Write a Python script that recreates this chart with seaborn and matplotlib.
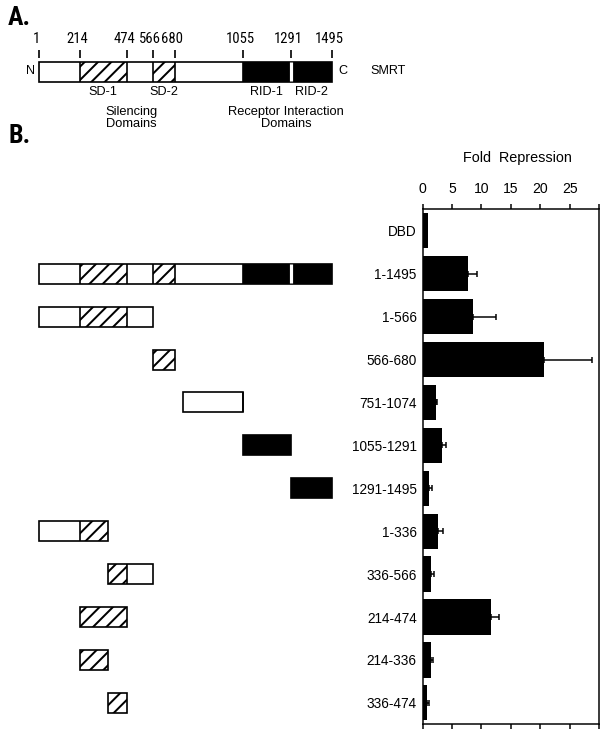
import numpy as np
import pandas as pd
import matplotlib
matplotlib.use("Agg")
import matplotlib.pyplot as plt
import seaborn as sns
from matplotlib.patches import Rectangle
from matplotlib.transforms import offset_copy

# ---------------- data ----------------
constructs = ["DBD", "1-1495", "1-566", "566-680", "751-1074", "1055-1291",
              "1291-1495", "1-336", "336-566", "214-474", "214-336", "336-474"]
fold_repression = [1.0, 7.8, 8.6, 20.6, 2.3, 3.25, 1.15, 2.6, 1.5, 11.6, 1.4, 0.8]
fold_error = [0.0, 1.4, 3.9, 8.2, 0.15, 0.75, 0.4, 0.8, 0.45, 1.4, 0.45, 0.35]
frag_start = [None, 1, 1, 566, 751, 1055, 1291, 1, 336, 214, 214, 336]
frag_end = [None, 1495, 566, 680, 1074, 1291, 1495, 336, 566, 474, 336, 474]

domain_names = ["SD-1", "SD-2", "RID-1", "RID-2"]
domain_start = [214, 566, 1055, 1291]
domain_end = [474, 680, 1291, 1495]
domain_style = ["hatch", "hatch", "solid", "solid"]
tick_residues = [1, 214, 474, 566, 680, 1055, 1291, 1495]
protein_start, protein_end = 1, 1495

# schematic (not-to-scale) drawing scale: residue -> drawing position
SCALE_RES = [1, 214, 336, 474, 566, 680, 751, 1055, 1074, 1291, 1495]
SCALE_POS = [38.6, 79.5, 107.5, 127, 152.5, 174.5, 183, 242.5, 243, 290.5, 332]

# ---------------- style ----------------
W, H, DPI = 609, 739, 120
plt.rcParams["font.family"] = ["Liberation Sans", "DejaVu Sans"]
plt.rcParams["hatch.linewidth"] = 1.2
plt.rcParams["hatch.color"] = "black"
NARROW = ["Roboto Condensed", "Liberation Sans", "DejaVu Sans"]


def _interp(x, xp, fp):
    x = np.asarray(x, dtype=float)
    y = np.interp(x, xp, fp)
    s0 = (fp[1] - fp[0]) / (xp[1] - xp[0])
    s1 = (fp[-1] - fp[-2]) / (xp[-1] - xp[-2])
    y = np.where(x < xp[0], fp[0] + (x - xp[0]) * s0, y)
    y = np.where(x > xp[-1], fp[-1] + (x - xp[-1]) * s1, y)
    return y


def fwd(x):
    return _interp(x, SCALE_RES, SCALE_POS)


def inv(y):
    return _interp(y, SCALE_POS, SCALE_RES)


fig = plt.figure(figsize=(W / DPI, H / DPI), dpi=DPI)


def fbox(x0, y0, x1, y1):
    return [x0 / W, 1 - y1 / H, (x1 - x0) / W, (y1 - y0) / H]


def ftext(x, y, s, **kw):
    fig.text(x / W, 1 - y / H, s, **kw)


# ---------------- bar chart ----------------
df = pd.DataFrame({"construct": constructs, "fold": fold_repression, "err": fold_error})
ax = fig.add_axes(fbox(422.5, 209.3, 599.3, 724.3))
sns.barplot(data=df, x="fold", y="construct", order=constructs, orient="h",
            color="black", saturation=1, width=0.82, errorbar=None, ax=ax,
            edgecolor="none")
has_err = df["err"] > 0
ypos = np.arange(len(constructs))
ax.errorbar(df["fold"][has_err], ypos[has_err],
            xerr=[np.zeros(has_err.sum()), df["err"][has_err]],
            fmt="none", ecolor="black", elinewidth=0.9, capsize=2, capthick=0.9)
ax.set_xlim(0, 30)
ax.set_ylim(len(constructs) - 0.5, -0.5)
ax.set_xticks([0, 5, 10, 15, 20, 25, 30])
ax.set_xticklabels(["0", "5", "10", "15", "20", "25", ""])
ax.set_xlabel("")
ax.set_ylabel("")
ax.tick_params(axis="x", which="both", top=True, bottom=True, labeltop=True,
               labelbottom=False, direction="out", length=3.2, width=0.9,
               pad=5, labelsize=8.4)
ax.tick_params(axis="y", length=0, pad=3.5, labelsize=8.2)
for sp in ax.spines.values():
    sp.set_visible(True)
    sp.set_linewidth(0.9)
    sp.set_color("black")
ftext(517.5, 162, "Fold  Repression", ha="center", va="baseline", fontsize=8.6)


# ---------------- construct drawings ----------------
def draw_fragment(axd, s, e, yc, h):
    axd.add_patch(Rectangle((s, yc - h / 2), e - s, h, facecolor="white",
                            edgecolor="none", zorder=1))
    for ds, de, st in zip(domain_start, domain_end, domain_style):
        a, b = max(s, ds), min(e, de)
        if b <= a:
            continue
        if st == "hatch":
            axd.add_patch(Rectangle((a, yc - h / 2), b - a, h, facecolor="white",
                                    edgecolor="black", linewidth=0, hatch="///",
                                    zorder=2))
        else:
            axd.add_patch(Rectangle((a, yc - h / 2), b - a, h, facecolor="black",
                                    edgecolor="none", zorder=2))
    for ds, de, st in zip(domain_start, domain_end, domain_style):
        for bnd in (ds, de):
            if s < bnd < e:
                axd.plot([bnd, bnd], [yc - h / 2, yc + h / 2], color="black",
                         lw=1.0, zorder=3, solid_capstyle="butt")
    axd.add_patch(Rectangle((s, yc - h / 2), e - s, h, facecolor="none",
                            edgecolor="black", linewidth=1.0, zorder=4))
    gap = domain_end[2]
    if s < gap < e:
        axd.plot([gap, gap], [yc - h / 2 + 0.02 * h, yc + h / 2 - 0.02 * h],
                 color="white", lw=1.9, zorder=5, solid_capstyle="butt")


axb = fig.add_axes(fbox(0, 209.3, 420, 724.3))
axb.set_xscale("function", functions=(fwd, inv))
axb.set_xlim(float(inv(0)), float(inv(420)))
axb.set_ylim(len(constructs) - 0.5, -0.5)
axb.axis("off")
for i, (s, e) in enumerate(zip(frag_start, frag_end)):
    if s is None:
        continue
    draw_fragment(axb, s, e, i, 0.466)

# ---------------- panel A: full-length SMRT ----------------
axa = fig.add_axes(fbox(0, 0, 420, 140))
axa.set_xscale("function", functions=(fwd, inv))
axa.set_xlim(float(inv(0)), float(inv(420)))
axa.set_ylim(140, 0)
axa.axis("off")
draw_fragment(axa, protein_start, protein_end, 71.7, 20)
lbl_tr = offset_copy(axa.transData, fig=fig, x=-2.5, y=0, units="dots")
for r in tick_residues:
    axa.plot([r, r], [50, 58.3], color="black", lw=1.0, solid_capstyle="butt")
    axa.text(r, 42.7, str(r), ha="center", va="baseline", fontsize=8.8,
             family=NARROW, transform=lbl_tr)
for name, ds, de in zip(domain_names, domain_start, domain_end):
    mid = float(inv((fwd(ds) + fwd(de)) / 2))
    axa.text(mid, 94.7, name, ha="center", va="baseline", fontsize=7.6)

ftext(35, 74, "N", ha="right", va="baseline", fontsize=7.6)
ftext(338, 74, "C", ha="left", va="baseline", fontsize=7.6)
ftext(370.7, 74, "SMRT", ha="left", va="baseline", fontsize=7.6)
ftext(131, 115.5, "Silencing", ha="center", va="baseline", fontsize=7.7)
ftext(131, 127.3, "Domains", ha="center", va="baseline", fontsize=7.7)
ftext(286, 115.5, "Receptor Interaction", ha="center", va="baseline", fontsize=7.7)
ftext(286, 127.3, "Domains", ha="center", va="baseline", fontsize=7.7)

ftext(8, 25, "A.", ha="left", va="baseline", fontsize=15.5, fontweight="bold",
      family=NARROW)
ftext(8, 143, "B.", ha="left", va="baseline", fontsize=15.5, fontweight="bold",
      family=NARROW)

fig.savefig("out.png", dpi=DPI)
